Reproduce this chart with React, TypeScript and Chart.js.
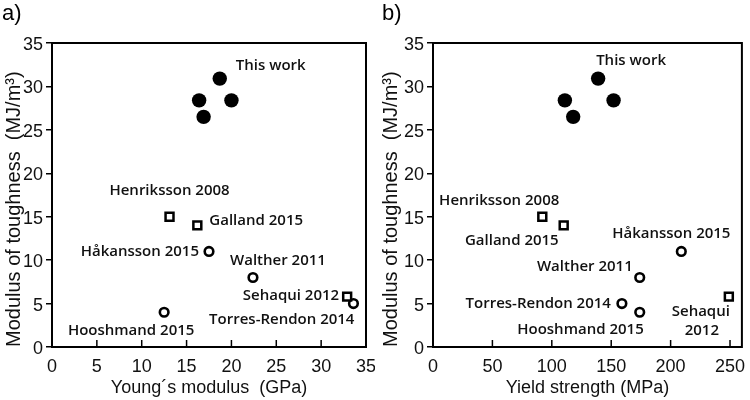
import React, { useEffect, useRef } from "react";
import { Chart, registerables } from "chart.js";

Chart.register(...registerables);

// ---------- data ----------
const squareStudies = ["Henriksson 2008", "Galland 2015", "Sehaqui 2012"];
const squareToughness = [15, 14, 5.8];
const squareModulus = [13.1, 16.2, 32.9];
const squareYield = [92, 110, 249];

const circleStudies = ["Håkansson 2015", "Walther 2011", "Torres-Rendon 2014", "Hooshmand 2015"];
const circleToughness = [11, 8, 5, 4];
const circleModulus = [17.5, 22.4, 33.6, 12.5];
const circleYield = [209, 174, 159, 174];

const thisWorkLabel = "This work";
const thisWorkToughness = [28.4, 26.5, 30.9, 28.4];
const thisWorkModulus = [16.4, 16.9, 18.7, 20.0];
const thisWorkYield = [111, 118, 139, 152];

const toughnessTicks = [0, 5, 10, 15, 20, 25, 30, 35];
const modulusTicks = [0, 5, 10, 15, 20, 25, 30, 35];
const yieldTicks = [0, 50, 100, 150, 200, 250];

// ---------- label placement (style, not data) ----------
type Lab = { text: string; set: number; idx: number; dx: number; dy: number; align: CanvasTextAlign };
// set: 0 = this work, 1 = squares, 2 = circles
const labelsA: Lab[] = [
  { text: thisWorkLabel, set: 0, idx: 2, dx: 16, dy: -13, align: "left" },
  { text: squareStudies[0], set: 1, idx: 0, dx: 0, dy: -26, align: "center" },
  { text: squareStudies[1], set: 1, idx: 1, dx: 12, dy: -5, align: "left" },
  { text: squareStudies[2], set: 1, idx: 2, dx: -8, dy: -1, align: "right" },
  { text: circleStudies[0], set: 2, idx: 0, dx: -10, dy: 0, align: "right" },
  { text: circleStudies[1], set: 2, idx: 1, dx: 25, dy: -17, align: "center" },
  { text: circleStudies[2], set: 2, idx: 2, dx: 1, dy: 16, align: "right" },
  { text: circleStudies[3], set: 2, idx: 3, dx: -33, dy: 18, align: "center" },
];
const labelsB: Lab[] = [
  { text: thisWorkLabel, set: 0, idx: 2, dx: -2, dy: -18, align: "left" },
  { text: squareStudies[0], set: 1, idx: 0, dx: 17, dy: -16, align: "right" },
  { text: squareStudies[1], set: 1, idx: 1, dx: -5, dy: 15, align: "right" },
  { text: squareStudies[2].split(" ")[0], set: 1, idx: 2, dx: -28, dy: 15, align: "center" },
  { text: squareStudies[2].split(" ")[1], set: 1, idx: 2, dx: -27, dy: 34, align: "center" },
  { text: circleStudies[0], set: 2, idx: 0, dx: -10, dy: -18, align: "center" },
  { text: circleStudies[1], set: 2, idx: 1, dx: -7, dy: -11, align: "right" },
  { text: circleStudies[2], set: 2, idx: 2, dx: -11, dy: 0, align: "right" },
  { text: circleStudies[3], set: 2, idx: 3, dx: 4, dy: 17, align: "right" },
];

const AXIS_FONT = "'Liberation Sans', Arial, Helvetica, sans-serif";
const LABEL_FONT = "'Open Sans', 'Noto Sans', sans-serif";

type PanelProps = {
  panel: string;
  panelX: number;
  xTitle: string;
  xWork: number[];
  xSquare: number[];
  xCircle: number[];
  xTicks: number[];
  xMax: number;
  yAxisWidth: number;
  padRight: number;
  yTitlePad: number;
  labels: Lab[];
};

function Panel(p: PanelProps) {
  const ref = useRef<HTMLCanvasElement | null>(null);
  useEffect(() => {
    if (!ref.current) return;
    const annot = {
      id: "annot",
      afterDraw(chart: any) {
        const { ctx, chartArea, scales } = chart;
        const xs = scales.x, ys = scales.y;
        ctx.save();
        // frame
        ctx.strokeStyle = "#000";
        ctx.lineWidth = 2;
        ctx.strokeRect(chartArea.left, chartArea.top, chartArea.right - chartArea.left, chartArea.bottom - chartArea.top);
        // inward x ticks
        ctx.lineWidth = 1.5;
        xs.ticks.forEach((t: any) => {
          const px = xs.getPixelForValue(t.value);
          ctx.beginPath();
          ctx.moveTo(px, chartArea.bottom);
          ctx.lineTo(px, chartArea.bottom - 7);
          ctx.stroke();
        });
        // annotations
        ctx.fillStyle = "#111";
        ctx.font = `600 15px ${LABEL_FONT}`;
        ctx.textBaseline = "middle";
        const sets = [
          [p.xWork, thisWorkToughness],
          [p.xSquare, squareToughness],
          [p.xCircle, circleToughness],
        ];
        p.labels.forEach((l) => {
          const [xv, yv] = sets[l.set];
          const px = xs.getPixelForValue(xv[l.idx]);
          const py = ys.getPixelForValue(yv[l.idx]);
          ctx.textAlign = l.align;
          ctx.fillText(l.text, px + l.dx, py + l.dy);
        });
        // panel label
        ctx.font = `22px ${AXIS_FONT}`;
        ctx.textAlign = "left";
        ctx.fillStyle = "#000";
        ctx.fillText(p.panel, p.panelX, 14);
        ctx.restore();
      },
    };
    const chart = new Chart(ref.current, {
      type: "scatter",
      data: {
        datasets: [
          {
            label: thisWorkLabel,
            data: p.xWork.map((x, i) => ({ x, y: thisWorkToughness[i] })),
            pointStyle: "circle",
            pointRadius: 7.2,
            backgroundColor: "#000",
            borderColor: "#000",
            borderWidth: 0,
          },
          {
            label: "squares",
            data: p.xSquare.map((x, i) => ({ x, y: squareToughness[i] })),
            pointStyle: "rect",
            pointRadius: 5.6,
            backgroundColor: "#fff",
            borderColor: "#000",
            borderWidth: 2.5,
          },
          {
            label: "circles",
            data: p.xCircle.map((x, i) => ({ x, y: circleToughness[i] })),
            pointStyle: "circle",
            pointRadius: 4.3,
            backgroundColor: "#fff",
            borderColor: "#000",
            borderWidth: 2.6,
          },
        ],
      },
      options: {
        responsive: false,
        animation: false,
        layout: { padding: { top: 43, right: p.padRight, left: 0, bottom: 0 } },
        plugins: { legend: { display: false }, tooltip: { enabled: false }, title: { display: false } },
        scales: {
          x: {
            type: "linear",
            min: 0,
            max: p.xMax,
            afterBuildTicks: (s: any) => {
              s.ticks = p.xTicks.map((v) => ({ value: v }));
            },
            afterFit: (s: any) => {
              s.height = 53;
              s.paddingLeft = 0;
              s.paddingRight = 0;
            },
            grid: { display: false, drawTicks: false },
            border: { display: false },
            ticks: { color: "#111", font: { family: AXIS_FONT, size: 18 }, padding: 9, maxRotation: 0, autoSkip: false },
            title: {
              display: true,
              text: p.xTitle,
              color: "#111",
              font: { family: AXIS_FONT, size: 18 },
              padding: { top: 0, bottom: 1 },
            },
          },
          y: {
            type: "linear",
            min: 0,
            max: 35,
            afterBuildTicks: (s: any) => {
              s.ticks = toughnessTicks.map((v) => ({ value: v }));
            },
            afterFit: (s: any) => {
              s.width = p.yAxisWidth;
              s.paddingTop = 0;
              s.paddingBottom = 0;
            },
            grid: { display: true, drawOnChartArea: false, drawTicks: true, tickLength: 6, color: "#000", lineWidth: 1.5 },
            border: { display: false },
            ticks: { color: "#111", font: { family: AXIS_FONT, size: 18 }, padding: 3, labelOffset: 2 },
            title: {
              display: true,
              text: "Modulus of toughness  (MJ/m³)",
              align: "start",
              color: "#111",
              font: { family: AXIS_FONT, size: 20 },
              padding: { top: p.yTitlePad, bottom: 0 },
            },
          },
        },
      },
      plugins: [annot],
    } as any);
    return () => chart.destroy();
  }, []);
  return <canvas ref={ref} width={375} height={400} style={{ display: "block", width: 375, height: 400 }} />;
}

export default function App() {
  return (
    <div style={{ position: "fixed", left: 0, top: 0, width: 750, height: 400, display: "flex", background: "#fff" }}>
      <Panel
        panel="a)"
        panelX={2}
        xTitle="Young´s modulus  (GPa)"
        xWork={thisWorkModulus}
        xSquare={squareModulus}
        xCircle={circleModulus}
        xTicks={modulusTicks}
        xMax={35}
        yAxisWidth={52}
        padRight={9}
        yTitlePad={2}
        labels={labelsA}
      />
      <Panel
        panel="b)"
        panelX={7}
        xTitle="Yield strength (MPa)"
        xWork={thisWorkYield}
        xSquare={squareYield}
        xCircle={circleYield}
        xTicks={yieldTicks}
        xMax={260}
        yAxisWidth={58}
        padRight={4}
        yTitlePad={4}
        labels={labelsB}
      />
    </div>
  );
}
